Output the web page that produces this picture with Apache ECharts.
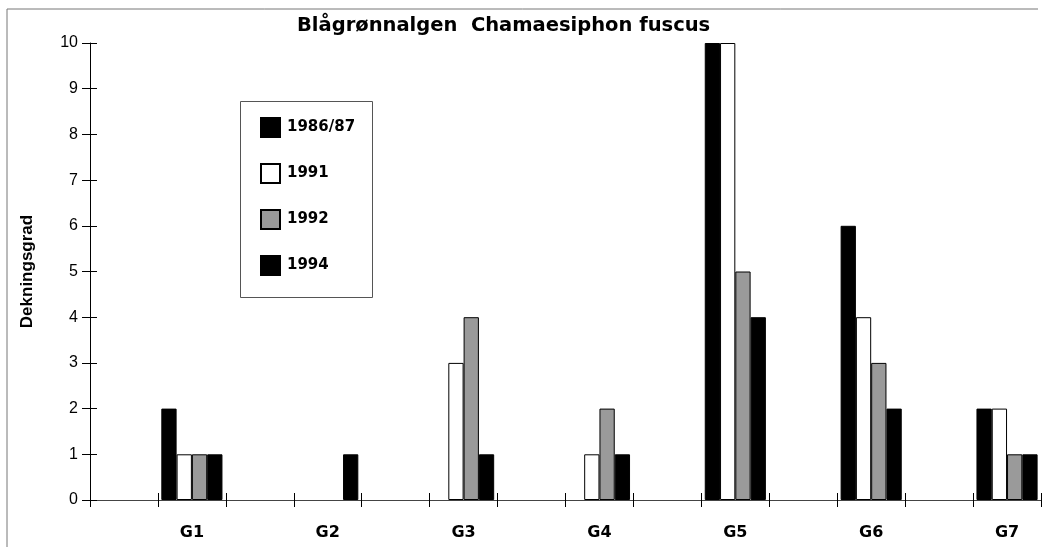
<!DOCTYPE html>
<html>
<head>
<meta charset="utf-8">
<script src="https://cdn.jsdelivr.net/npm/echarts@6/dist/echarts.min.js"></script>
<style>
  html, body { margin: 0; padding: 0; background: #fff; }
  #chart { width: 1047px; height: 547px; }
</style>
</head>
<body>
<div id="chart"></div>
<script>
// stations and years
const stations = ["G1", "G2", "G3", "G4", "G5", "G6", "G7"];
const years = ["1986/87", "1991", "1992", "1994"];
// dekningsgrad per station
const v1986 = [2, 0, 0, 0, 10, 6, 2];
const v1991 = [1, 0, 3, 1, 10, 4, 2];
const v1992 = [1, 0, 4, 2, 5, 3, 1];
const v1994 = [1, 1, 1, 1, 4, 2, 1];
const yTicks = [0, 1, 2, 3, 4, 5, 6, 7, 8, 9, 10];

// every station has an empty slot before it (as in the original chart)
const cats = [];
stations.forEach(s => { cats.push(""); cats.push(s); });
function spread(vals) {
  const out = [];
  // zero cover draws no bar at all
  vals.forEach(v => { out.push(null); out.push(v === 0 ? null : v); });
  return out;
}

const fills = ["#000000", "#ffffff", "#9a9a9a", "#000000"];
const values = [v1986, v1991, v1992, v1994];

const chart = echarts.init(document.getElementById("chart"));
chart.setOption({
  animation: false,
  backgroundColor: "#fff",
  title: {
    text: "Blågrønnalgen  Chamaesiphon fuscus",
    left: 297,
    top: 16,
    padding: 0,
    textStyle: {
      fontFamily: "DejaVu Sans",
      fontWeight: "bold",
      fontSize: 19.5,
      color: "#000"
    }
  },
  legend: {
    orient: "vertical",
    left: 255,
    top: 112,
    itemWidth: 19,
    itemHeight: 19,
    itemGap: 25,
    icon: "rect",
    data: years,
    textStyle: {
      fontFamily: "DejaVu Sans",
      fontWeight: "bold",
      fontSize: 15,
      color: "#000",
      padding: [0, 0, 0, 2]
    }
  },
  graphic: [
    // outer frame (top + left only)
    { type: "line", shape: { x1: 7, y1: 9, x2: 1038, y2: 9 }, style: { stroke: "#777", lineWidth: 1 } },
    { type: "line", shape: { x1: 7, y1: 9, x2: 7, y2: 547 }, style: { stroke: "#777", lineWidth: 1 } },
    // legend box
    { type: "rect", shape: { x: 240.5, y: 101.5, width: 132, height: 196 }, style: { fill: "none", stroke: "#555", lineWidth: 1 }, z: -1 }
  ],
  grid: { left: 90, right: 6, top: 43, bottom: 47 },
  xAxis: [
    {
      type: "category",
      data: cats,
      boundaryGap: true,
      axisLine: { lineStyle: { color: "#444", width: 1 } },
      axisTick: { show: true, interval: 0, length: 7, lineStyle: { color: "#000" } },
      axisLabel: {
        interval: 0,
        margin: 25,
        fontFamily: "DejaVu Sans",
        fontWeight: "bold",
        fontSize: 16,
        color: "#000"
      }
    },
    {
      type: "category",
      data: cats,
      position: "bottom",
      axisLine: { show: false },
      axisTick: { show: true, inside: true, interval: 0, length: 7, lineStyle: { color: "#000" } },
      axisLabel: { show: false }
    }
  ],
  yAxis: [
    {
      type: "value",
      min: yTicks[0],
      max: yTicks[yTicks.length - 1],
      interval: 1,
      name: "Dekningsgrad",
      nameLocation: "middle",
      nameGap: 54,
      nameTextStyle: {
        fontFamily: "Liberation Sans",
        fontWeight: "bold",
        fontSize: 17,
        color: "#000"
      },
      splitLine: { show: false },
      axisLine: { show: true, lineStyle: { color: "#000", width: 1 } },
      axisTick: { show: true, length: 8, lineStyle: { color: "#000" } },
      axisLabel: {
        margin: 12,
        fontFamily: "Liberation Sans",
        fontSize: 16,
        color: "#000"
      }
    },
    {
      type: "value",
      min: yTicks[0],
      max: yTicks[yTicks.length - 1],
      interval: 1,
      position: "left",
      splitLine: { show: false },
      axisLine: { show: false },
      axisTick: { show: true, inside: true, length: 7, lineStyle: { color: "#000" } },
      axisLabel: { show: false }
    }
  ],
  series: years.map((y, i) => ({
    name: y,
    type: "bar",
    barGap: "0%",
    barCategoryGap: "10%",
    data: spread(values[i]),
    itemStyle: { color: fills[i], borderColor: "#000", borderWidth: 1 }
  }))
});
</script>
</body>
</html>
